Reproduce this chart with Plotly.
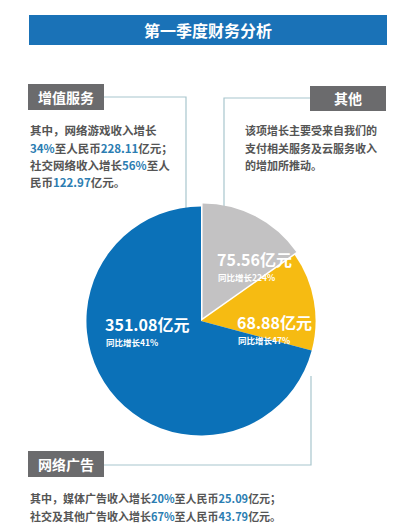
import plotly.graph_objects as go

W, H = 400, 524
labels = ["其他", "网络广告", "增值服务"]
values = [75.56, 68.88, 351.08]
growth = ["224%", "47%", "41%"]
colors = ["#c3c2c3", "#f6bb12", "#0b71b8"]

def px(x): return x / W
def py(y): return 1 - y / H

fig = go.Figure(go.Pie(
    labels=labels, values=values, sort=False, direction="clockwise", rotation=0,
    marker=dict(colors=colors, line=dict(width=0)), pull=[0.03, 0, 0],
    textinfo="none", hoverinfo="label+value", showlegend=False,
    domain=dict(x=[px(75), px(311)], y=[py(431), py(195)])))

LC = "#a8c6cd"
shapes = []
def rect(x0, y0, x1, y1, c):
    shapes.append(dict(type="rect", xref="paper", yref="paper", x0=px(x0), x1=px(x1),
                       y0=py(y1), y1=py(y0), fillcolor=c, line=dict(width=0), layer="below"))
def line(pts):
    path = "M " + " L ".join(f"{px(x)},{py(y)}" for x, y in pts)
    shapes.append(dict(type="path", xref="paper", yref="paper", path=path,
                       line=dict(color=LC, width=1.2), layer="below"))

rect(21, 7, 379, 37, "#1a72b7")
line([(96, 89), (178, 89), (178, 203)])
line([(302, 90), (216, 90), (216, 198)])
line([(96, 457), (303, 457), (303, 368)])
rect(20, 76, 96, 102, "#6b6b6d")
rect(302, 78, 378, 103, "#6b6b6d")
rect(20, 443, 96, 469, "#6b6b6d")

F = "Noto Sans CJK SC"
ann = []
def txt(x, y, t, size, color="#555555", anchor="left", bold=True):
    ann.append(dict(xref="paper", yref="paper", x=px(x), y=py(y), text=(f"<b>{t}</b>" if bold else t),
                    showarrow=False, xanchor=anchor, yanchor="middle",
                    font=dict(family=F, size=size, color=color)))
B = "#2b7db2"
def hl(s): return f"<span style='color:{B}'>{s}</span>"

txt(200, 22, "第一季度财务分析", 16, "white", "center")
txt(58, 89, labels[2], 14, "white", "center")
txt(340, 90, labels[0], 14, "white", "center")
txt(58, 456, labels[1], 14, "white", "center")

txt(20, 122, "其中，网络游戏收入增长", 11.5)
txt(20, 140, hl("34%") + "至人民币" + hl("228.11") + "亿元；", 11.5)
txt(20, 157, "社交网络收入增长" + hl("56%") + "至人", 11.5)
txt(20, 174, "民币" + hl("122.97") + "亿元。", 11.5)
txt(235, 122, "该项增长主要受来自我们的", 11)
txt(235, 140, "支付相关服务及云服务收入", 11)
txt(235, 157, "的增加所推动。", 11)
txt(20, 490, "其中，媒体广告收入增长" + hl("20%") + "至人民币" + hl("25.09") + "亿元；", 11)
txt(20, 508, "社交及其他广告收入增长" + hl("67%") + "至人民币" + hl("43.79") + "亿元。", 11)

pos = [(207, 251, 269), (227, 314, 332), (95, 316, 334)]
for v, g, (x, y1, y2) in zip(values, growth, pos):
    txt(x, y1, f"{v:.2f}亿元", 16, "white")
    txt(x + 1, y2, f"同比增长{g}", 8.5, "white")

fig.update_layout(width=W, height=H, margin=dict(l=0, r=0, t=0, b=0),
                  paper_bgcolor="white", plot_bgcolor="white", shapes=shapes, annotations=ann)
fig.write_html("out.html")
